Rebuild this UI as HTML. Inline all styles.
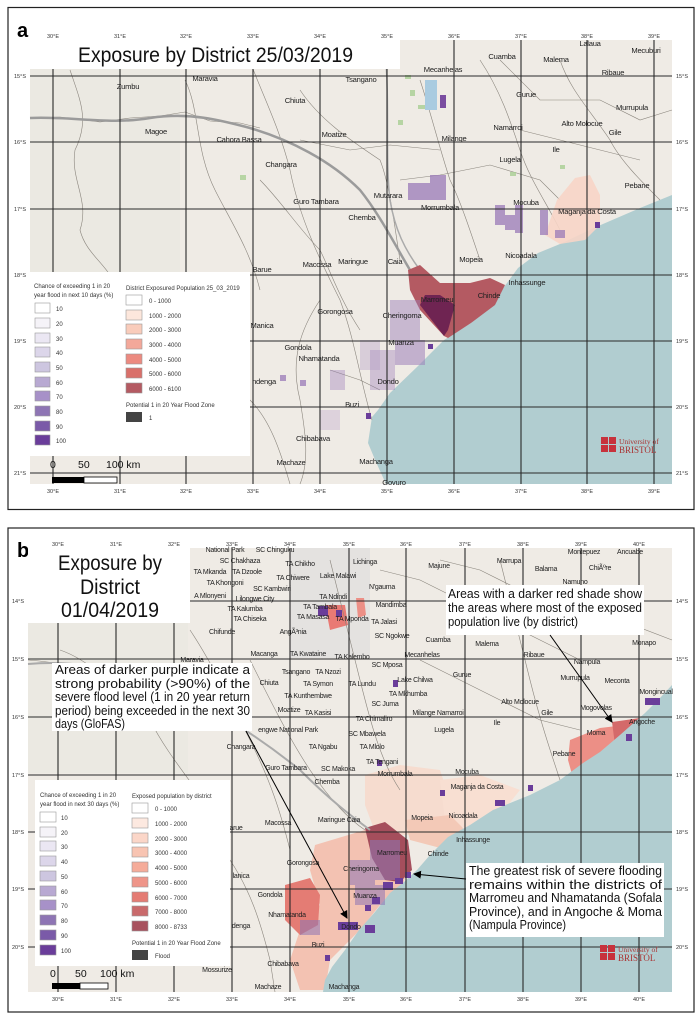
<!DOCTYPE html>
<html><head><meta charset="utf-8"><style>
html,body{margin:0;padding:0;background:#fff}
svg{display:block}
.l{font-family:"Liberation Sans",sans-serif;font-size:7.6px;letter-spacing:-0.25px;fill:#222}
.t{font-family:"Liberation Sans",sans-serif;font-size:5.5px;fill:#333}
.lg{font-family:"Liberation Sans",sans-serif;font-size:6px;fill:#333}
.an{font-family:"Liberation Sans",sans-serif;font-size:12.5px;fill:#111}
.g{stroke:#2a2a2a;stroke-width:1.1}
.r{fill:none;stroke:#8a857d;stroke-width:.6}
</style></head><body>
<svg width="700" height="1020" viewBox="0 0 700 1020" xmlns="http://www.w3.org/2000/svg">
<defs>
<marker id="ah" markerWidth="8" markerHeight="8" refX="7" refY="4" orient="auto"><path d="M0,0 L8,4 L0,8z" fill="#000"/></marker>
</defs>
<!-- ============ PANEL A ============ -->
<rect x="8" y="7.5" width="686" height="502" fill="#fff" stroke="#222" stroke-width="1.2"/>
<text x="17" y="37" font-family="Liberation Sans,sans-serif" font-size="20" font-weight="bold">a</text>
<path d="M30,69 L400,69 L400,40 L672,40 L672,484 L30,484z" fill="#efebe5"/>
<rect x="30" y="69" width="150" height="210" fill="#ebe9e2"/>
<path d="M672,195 L640,208 L596,227 L560,244 L538,253 L518,268 L507,283 L490,305 L471,323 L444,340 L417,367 L390,393 L378,410 L372,417 L368,443 L376,462 L386,484 L672,484z" fill="#b1cdd0"/>
<g class="r">
<path d="M30,118 L60,117 L100,122 L130,118 L160,116 L185,112 L210,121 L240,123 L260,128"/>
<path d="M70,70 C80,100 90,120 75,150 C70,180 90,200 80,230 C85,250 100,260 110,275"/>
<path d="M185,80 C200,110 195,150 215,190 C230,220 250,250 260,290"/>
<path d="M253,69 C265,100 280,130 290,170 C300,220 320,260 340,300 C355,340 360,380 372,420"/>
<path d="M300,90 C320,120 350,140 380,160 C390,185 395,230 400,260"/>
<path d="M420,80 C430,110 440,150 450,180 C460,200 470,230 480,260"/>
<path d="M480,60 C500,90 510,120 520,150 C530,180 545,200 560,230"/>
<path d="M560,60 C570,90 590,110 610,140 C620,160 640,180 660,200"/>
<path d="M260,180 C280,200 300,230 320,250 C330,270 340,300 360,330"/>
<path d="M320,300 C300,330 290,360 300,400 C305,430 310,460 300,484"/>
<path d="M400,180 L440,175 L490,165 L540,180 L560,200"/>
<path d="M300,140 L350,150 L390,145 L440,150"/>
<path d="M330,370 L360,380 L380,390"/>
<path d="M250,400 C270,420 280,450 290,484"/>
<path d="M500,60 L540,100 L600,100 L640,120 L672,110"/>
<path d="M520,130 L560,140 L600,150 L640,160"/>
</g>
<path d="M30,118 C70,116 110,125 150,118 C190,112 220,120 250,128 C290,140 330,160 360,190 C380,215 395,245 410,270" fill="none" stroke="#9b9b9b" stroke-width="2.5"/>
<path d="M385,50 C390,100 385,160 390,200 C395,230 405,250 420,270" fill="none" stroke="#aaa" stroke-width="1.5"/>
<g fill="#a9cf93" opacity=".8">
<rect x="405" y="75" width="6" height="4"/><rect x="410" y="90" width="5" height="6"/><rect x="418" y="105" width="7" height="4"/><rect x="398" y="120" width="5" height="5"/><rect x="240" y="175" width="6" height="5"/><rect x="510" y="172" width="6" height="4"/><rect x="560" y="165" width="5" height="4"/>
</g>
<rect x="425" y="80" width="12" height="30" fill="#a9cbe0"/>
<rect x="440" y="95" width="6" height="13" fill="#7a4da0"/>
<path d="M557,200 L575,178 L590,175 L600,195 L600,225 L585,240 L560,244 L545,235z" fill="#f7d5c7" opacity=".9"/>
<path d="M408,270 L420,265 L440,283 L470,283 L490,278 L505,285 L495,305 L471,323 L448,338 L444,336 L420,310 L410,290z" fill="#b45a62"/>
<path d="M420,305 L444,336 L448,330 L455,305 L440,295 L425,295z" fill="#6f2452"/>
<g fill="#9a7ab8" opacity=".75">
<rect x="408" y="183" width="38" height="17"/><rect x="430" y="175" width="16" height="10"/>
<rect x="495" y="205" width="10" height="20"/><rect x="505" y="215" width="12" height="15"/><rect x="515" y="205" width="8" height="28"/><rect x="540" y="210" width="8" height="25"/><rect x="555" y="230" width="10" height="8"/>
<rect x="390" y="300" width="30" height="40" opacity=".6"/><rect x="395" y="340" width="30" height="25" opacity=".7"/><rect x="370" y="350" width="25" height="40" opacity=".5"/>
<rect x="360" y="340" width="20" height="30" opacity=".35"/><rect x="330" y="370" width="15" height="20" opacity=".5"/><rect x="280" y="375" width="6" height="6"/><rect x="300" y="380" width="6" height="6"/>
<rect x="320" y="410" width="20" height="20" opacity=".3"/>
</g>
<rect x="366" y="413" width="5" height="6" fill="#6a3d9a"/><rect x="428" y="344" width="5" height="5" fill="#6a3d9a"/><rect x="595" y="222" width="5" height="6" fill="#6a3d9a"/>
<g class="g">
<line x1="30" y1="76" x2="672" y2="76"/><line x1="30" y1="142" x2="672" y2="142"/><line x1="30" y1="209" x2="672" y2="209"/><line x1="30" y1="275" x2="672" y2="275"/><line x1="30" y1="341" x2="672" y2="341"/><line x1="30" y1="407" x2="672" y2="407"/><line x1="30" y1="473" x2="672" y2="473"/>
<line x1="53" y1="40" x2="53" y2="484"/><line x1="120" y1="40" x2="120" y2="484"/><line x1="186" y1="40" x2="186" y2="484"/><line x1="253" y1="40" x2="253" y2="484"/><line x1="320" y1="40" x2="320" y2="484"/><line x1="387" y1="40" x2="387" y2="484"/><line x1="454" y1="40" x2="454" y2="484"/><line x1="521" y1="40" x2="521" y2="484"/><line x1="587" y1="40" x2="587" y2="484"/><line x1="654" y1="40" x2="654" y2="484"/>
</g>
<rect x="30" y="40" width="370" height="29" fill="#fff"/>
<text x="78" y="62" font-family="Liberation Sans,sans-serif" font-size="21" fill="#111" textLength="275" lengthAdjust="spacingAndGlyphs">Exposure by District 25/03/2019</text>
<g class="t" text-anchor="middle">
<text x="53" y="38">30°E</text><text x="120" y="38">31°E</text><text x="186" y="38">32°E</text><text x="253" y="38">33°E</text><text x="320" y="38">34°E</text><text x="387" y="38">35°E</text><text x="454" y="38">36°E</text><text x="521" y="38">37°E</text><text x="587" y="38">38°E</text><text x="654" y="38">39°E</text>
<text x="53" y="493">30°E</text><text x="120" y="493">31°E</text><text x="186" y="493">32°E</text><text x="253" y="493">33°E</text><text x="320" y="493">34°E</text><text x="387" y="493">35°E</text><text x="454" y="493">36°E</text><text x="521" y="493">37°E</text><text x="587" y="493">38°E</text><text x="654" y="493">39°E</text>
</g>
<g class="t">
<text x="14" y="78">15°S</text><text x="14" y="144">16°S</text><text x="14" y="211">17°S</text><text x="14" y="277">18°S</text><text x="14" y="343">19°S</text><text x="14" y="409">20°S</text><text x="14" y="475">21°S</text>
<text x="676" y="78">15°S</text><text x="676" y="144">16°S</text><text x="676" y="211">17°S</text><text x="676" y="277">18°S</text><text x="676" y="343">19°S</text><text x="676" y="409">20°S</text><text x="676" y="475">21°S</text>
</g>
<g class="l" text-anchor="middle">
<text x="128" y="89">Zumbu</text><text x="205" y="81">Maravia</text><text x="361" y="82">Tsangano</text><text x="443" y="72">Mecanhelas</text><text x="502" y="59">Cuamba</text><text x="556" y="62">Malema</text><text x="590" y="46">Lalaua</text><text x="646" y="53">Mecuburi</text><text x="613" y="75">Ribaue</text>
<text x="295" y="103">Chiuta</text><text x="526" y="97">Gurue</text><text x="632" y="110">Murrupula</text><text x="156" y="134">Magoe</text><text x="239" y="142">Cahora Bassa</text><text x="334" y="137">Moatize</text><text x="508" y="130">Namarroi</text><text x="582" y="126">Alto Molocue</text><text x="615" y="135">Gile</text><text x="454" y="141">Milange</text><text x="556" y="152">Ile</text><text x="510" y="162">Lugela</text><text x="281" y="167">Changara</text><text x="637" y="188">Pebane</text>
<text x="388" y="198">Mutarara</text><text x="316" y="204">Guro Tambara</text><text x="440" y="210">Morrumbala</text><text x="526" y="205">Mocuba</text><text x="587" y="214">Maganja da Costa</text><text x="362" y="220">Chemba</text>
<text x="471" y="262">Mopeia</text><text x="521" y="258">Nicoadala</text><text x="317" y="267">Macossa</text><text x="353" y="264">Maringue</text><text x="395" y="264">Caia</text><text x="262" y="272">Barue</text><text x="527" y="285">Inhassunge</text><text x="489" y="298">Chinde</text><text x="437" y="302">Marromeu</text>
<text x="335" y="314">Gorongosa</text><text x="402" y="318">Cheringoma</text><text x="262" y="328">Manica</text><text x="401" y="345">Muanza</text><text x="298" y="350">Gondola</text><text x="319" y="361">Nhamatanda</text><text x="264" y="384">ndenga</text><text x="388" y="384">Dondo</text><text x="352" y="407">Buzi</text><text x="313" y="441">Chibabava</text><text x="291" y="465">Machaze</text><text x="376" y="464">Machanga</text><text x="394" y="485">Govuro</text>
</g>
<rect x="30" y="272" width="220" height="184" fill="#fff"/>
<text class="lg" x="34" y="288">Chance of exceeding 1 in 20</text>
<text class="lg" x="34" y="297">year flood in next 10 days (%)</text>
<g stroke="#999" stroke-width=".6">
<rect x="35" y="303" width="15" height="10" fill="#fff"/><rect x="35" y="318" width="15" height="10" fill="#f5f3f8"/><rect x="35" y="333" width="15" height="10" fill="#ebe7f3"/><rect x="35" y="347" width="15" height="10" fill="#dcd6ea"/><rect x="35" y="362" width="15" height="10" fill="#cdc6e0"/><rect x="35" y="377" width="15" height="10" fill="#b8a9d2"/><rect x="35" y="391" width="15" height="10" fill="#a791c8"/><rect x="35" y="406" width="15" height="10" fill="#8e75b4"/><rect x="35" y="421" width="15" height="10" fill="#7a5aa8"/><rect x="35" y="435" width="15" height="10" fill="#6a3d9a"/>
</g>
<g class="lg"><text x="56" y="311">10</text><text x="56" y="326">20</text><text x="56" y="341">30</text><text x="56" y="355">40</text><text x="56" y="370">50</text><text x="56" y="385">60</text><text x="56" y="399">70</text><text x="56" y="414">80</text><text x="56" y="429">90</text><text x="56" y="443">100</text></g>
<text class="lg" x="126" y="290">District Exposured Population 25_03_2019</text>
<g stroke="#999" stroke-width=".6">
<rect x="126" y="295" width="16" height="10" fill="#fff"/><rect x="126" y="310" width="16" height="10" fill="#fde7dc"/><rect x="126" y="324" width="16" height="10" fill="#f9ccbb"/><rect x="126" y="339" width="16" height="10" fill="#f3a89a"/><rect x="126" y="354" width="16" height="10" fill="#ec8a80"/><rect x="126" y="368" width="16" height="10" fill="#d9706a"/><rect x="126" y="383" width="16" height="10" fill="#b45a62"/>
</g>
<g class="lg"><text x="149" y="303">0 - 1000</text><text x="149" y="318">1000 - 2000</text><text x="149" y="332">2000 - 3000</text><text x="149" y="347">3000 - 4000</text><text x="149" y="362">4000 - 5000</text><text x="149" y="376">5000 - 6000</text><text x="149" y="391">6000 - 6100</text></g>
<text class="lg" x="126" y="407">Potential 1 in 20 Year Flood Zone</text>
<rect x="126" y="412" width="16" height="10" fill="#444"/><text class="lg" x="149" y="420">1</text>
<g font-family="Liberation Sans,sans-serif" font-size="10.5" fill="#111"><text x="50" y="468">0</text><text x="78" y="468">50</text><text x="106" y="468">100 km</text></g>
<rect x="52" y="477" width="32" height="6" fill="#000"/><rect x="84" y="477" width="33" height="6" fill="#fff" stroke="#000" stroke-width=".8"/>
<rect x="601" y="437" width="7" height="7" fill="#c7323c"/><rect x="609" y="437" width="7" height="7" fill="#c7323c"/><rect x="601" y="445" width="7" height="7" fill="#c7323c"/><rect x="609" y="445" width="7" height="7" fill="#c7323c"/>
<text x="619" y="444" font-family="Liberation Serif,serif" font-size="7.5" fill="#a33">University of</text><text x="619" y="453" font-family="Liberation Serif,serif" font-size="9" fill="#a33">BRISTOL</text>

<!-- ============ PANEL B ============ -->
<rect x="8" y="528" width="686" height="484" fill="#fff" stroke="#222" stroke-width="1.2"/>
<text x="17" y="557" font-family="Liberation Sans,sans-serif" font-size="20" font-weight="bold">b</text>
<path d="M28,548 L672,548 L672,992 L28,992z" fill="#efebe5"/>
<rect x="28" y="623" width="160" height="150" fill="#ebe9e2"/>
<rect x="290" y="548" width="80" height="110" fill="#dcdcdc" opacity=".6"/>
<g>
<path d="M365,775 L400,765 L440,770 L450,800 L440,830 L405,835 L375,832 L365,805z" fill="#f6dccf"/>
<path d="M440,780 L480,775 L520,790 L500,815 L470,830 L445,820z" fill="#f8dfd2"/>
<path d="M405,820 L450,815 L470,835 L448,850 L410,840z" fill="#f3c9b7"/>
<path d="M315,845 L365,830 L395,840 L410,860 L400,895 L380,905 L360,930 L345,945 L330,960 L325,990 L300,990 L290,960 L300,930 L320,905 L310,870z" fill="#f3c2b2"/>
<path d="M285,885 L310,878 L320,895 L318,925 L300,935 L285,920z" fill="#e47c74"/>
<path d="M365,828 L385,822 L408,840 L412,870 L400,882 L385,880 L372,858z" fill="#a54e5c"/>
<path d="M570,740 L600,728 L625,725 L640,735 L630,760 L610,775 L590,790 L575,785 L568,760z" fill="#ec8f86"/>
<path d="M612,722 L640,718 L650,730 L640,745 L625,760 L615,745z" fill="#d46a6a"/>
<path d="M325,605 L345,605 L348,625 L330,630z" fill="#e97a74"/>
<path d="M356,598 L364,598 L366,615 L358,618z" fill="#ec8f86"/>
</g>
<path d="M672,685 L660,698 L645,713 L620,735 L600,752 L583,763 L560,780 L530,795 L493,810 L470,825 L448,837 L430,855 L417,870 L404,882 L390,893 L375,912 L359,930 L345,950 L332,967 L325,980 L323,992 L672,992z" fill="#b1cdd0"/>
<g class="r">
<path d="M60,650 C90,660 120,690 150,720 C170,760 200,790 230,840"/>
<path d="M190,630 C210,660 230,700 250,740 C270,780 280,810 290,850"/>
<path d="M250,660 C270,700 290,740 310,770 C330,800 350,820 365,830"/>
<path d="M330,560 C340,600 350,640 360,680 C370,720 380,760 400,790"/>
<path d="M380,570 L420,580 L460,600 L500,620 L540,640 L580,660"/>
<path d="M420,660 L460,680 L500,700 L540,720 L580,730"/>
<path d="M440,560 L480,570 L520,590 L560,600 L620,620 L672,640"/>
<path d="M500,560 C510,600 520,640 530,680 C540,720 550,750 560,780"/>
<path d="M230,860 C250,890 260,920 270,960 L275,992"/>
<path d="M140,850 C160,880 190,900 220,930"/>
<path d="M28,660 C60,662 90,670 120,680"/>
</g>
<path d="M28,664 C70,660 110,668 150,678 C200,700 250,730 300,770 C330,800 350,815 370,830" fill="none" stroke="#aaa" stroke-width="2"/>
<g fill="#8e75b4" opacity=".55">
<rect x="370" y="840" width="30" height="40"/><rect x="350" y="860" width="25" height="25"/><rect x="355" y="885" width="30" height="20"/><rect x="300" y="920" width="20" height="15"/>
</g>
<g fill="#6a3d9a">
<rect x="318" y="606" width="10" height="10"/><rect x="336" y="610" width="6" height="7"/><rect x="393" y="680" width="5" height="7"/><rect x="377" y="760" width="5" height="6"/>
<rect x="440" y="790" width="5" height="6"/><rect x="495" y="800" width="10" height="6"/><rect x="528" y="785" width="5" height="6"/><rect x="645" y="698" width="15" height="7"/><rect x="626" y="734" width="6" height="7"/>
<rect x="383" y="882" width="10" height="8"/><rect x="395" y="878" width="8" height="6"/><rect x="405" y="872" width="6" height="6"/><rect x="372" y="897" width="8" height="7"/><rect x="365" y="905" width="6" height="6"/><rect x="365" y="925" width="10" height="8"/><rect x="338" y="922" width="20" height="8"/><rect x="325" y="955" width="5" height="6"/>
</g>
<g class="g">
<line x1="28" y1="601" x2="672" y2="601"/><line x1="28" y1="659" x2="672" y2="659"/><line x1="28" y1="717" x2="672" y2="717"/><line x1="28" y1="775" x2="672" y2="775"/><line x1="28" y1="832" x2="672" y2="832"/><line x1="28" y1="889" x2="672" y2="889"/><line x1="28" y1="947" x2="672" y2="947"/>
<line x1="58" y1="548" x2="58" y2="992"/><line x1="116" y1="548" x2="116" y2="992"/><line x1="174" y1="548" x2="174" y2="992"/><line x1="232" y1="548" x2="232" y2="992"/><line x1="290" y1="548" x2="290" y2="992"/><line x1="349" y1="548" x2="349" y2="992"/><line x1="406" y1="548" x2="406" y2="992"/><line x1="465" y1="548" x2="465" y2="992"/><line x1="523" y1="548" x2="523" y2="992"/><line x1="581" y1="548" x2="581" y2="992"/><line x1="639" y1="548" x2="639" y2="992"/>
</g>
<g class="t" text-anchor="middle">
<text x="58" y="546">30°E</text><text x="116" y="546">31°E</text><text x="174" y="546">32°E</text><text x="232" y="546">33°E</text><text x="290" y="546">34°E</text><text x="349" y="546">35°E</text><text x="406" y="546">36°E</text><text x="465" y="546">37°E</text><text x="523" y="546">38°E</text><text x="581" y="546">39°E</text><text x="639" y="546">40°E</text>
<text x="58" y="1001">30°E</text><text x="116" y="1001">31°E</text><text x="174" y="1001">32°E</text><text x="232" y="1001">33°E</text><text x="290" y="1001">34°E</text><text x="349" y="1001">35°E</text><text x="406" y="1001">36°E</text><text x="465" y="1001">37°E</text><text x="523" y="1001">38°E</text><text x="581" y="1001">39°E</text><text x="639" y="1001">40°E</text>
</g>
<g class="t">
<text x="12" y="603">14°S</text><text x="12" y="661">15°S</text><text x="12" y="719">16°S</text><text x="12" y="777">17°S</text><text x="12" y="834">18°S</text><text x="12" y="891">19°S</text><text x="12" y="949">20°S</text>
<text x="676" y="603">14°S</text><text x="676" y="661">15°S</text><text x="676" y="719">16°S</text><text x="676" y="777">17°S</text><text x="676" y="834">18°S</text><text x="676" y="891">19°S</text><text x="676" y="949">20°S</text>
</g>
<g class="l" text-anchor="middle" style="font-size:7px">
<text x="225" y="552">National Park</text><text x="275" y="552">SC Chinguku</text><text x="240" y="563">SC Chakhaza</text><text x="300" y="566">TA Chikho</text><text x="210" y="574">TA Mkanda</text><text x="247" y="574">TA Dzoole</text><text x="225" y="585">TA Khongoni</text><text x="293" y="580">TA Chiwere</text><text x="338" y="578">Lake Malawi</text><text x="272" y="591">SC Kambwiri</text><text x="210" y="598">A Mlonyeni</text><text x="255" y="601">Lilongwe City</text><text x="333" y="599">TA Ndindi</text><text x="245" y="611">TA Kalumba</text><text x="320" y="609">TA Tambala</text><text x="250" y="621">TA Chiseka</text><text x="313" y="619">TA Masasa</text><text x="352" y="621">TA Mponda</text><text x="384" y="624">TA Jalasi</text><text x="392" y="638">SC Ngokwe</text><text x="293" y="634">AngÃ³nia</text>
<text x="365" y="564">Lichinga</text><text x="439" y="568">Majune</text><text x="509" y="563">Marrupa</text><text x="546" y="571">Balama</text><text x="584" y="554">Montepuez</text><text x="630" y="554">Ancuabe</text><text x="600" y="570">ChiÃºre</text><text x="575" y="584">Namuno</text><text x="382" y="589">N'gauma</text><text x="391" y="607">Mandimba</text>
<text x="222" y="634">Chifunde</text><text x="438" y="642">Cuamba</text><text x="487" y="646">Malema</text><text x="644" y="645">Monapo</text><text x="264" y="656">Macanga</text><text x="308" y="656">TA Kwataine</text><text x="352" y="659">TA Kalembo</text><text x="422" y="657">Mecanhelas</text><text x="534" y="657">Ribaue</text><text x="587" y="664">Nampula</text><text x="192" y="662">Maravia</text><text x="387" y="667">SC Mposa</text>
<text x="296" y="674">Tsangano</text><text x="328" y="674">TA Nzozi</text><text x="269" y="685">Chiuta</text><text x="318" y="686">TA Symon</text><text x="362" y="686">TA Lundu</text><text x="415" y="682">Lake Chilwa</text><text x="462" y="677">Gurue</text><text x="575" y="680">Murrupula</text><text x="617" y="683">Meconta</text><text x="408" y="696">TA Mkhumba</text><text x="308" y="698">TA Kunthembwe</text><text x="385" y="706">SC Juma</text><text x="520" y="704">Alto Molocue</text><text x="596" y="710">Mogovolas</text><text x="656" y="694">Mongincual</text>
<text x="289" y="712">Moatize</text><text x="318" y="715">TA Kasisi</text><text x="438" y="715">Milange Namarroi</text><text x="547" y="715">Gile</text><text x="374" y="721">TA Chimaliro</text><text x="497" y="725">Ile</text><text x="642" y="724">Angoche</text><text x="444" y="732">Lugela</text><text x="596" y="735">Moma</text><text x="288" y="732">engwe National Park</text><text x="367" y="736">SC Mbawela</text>
<text x="241" y="749">Changara</text><text x="323" y="749">TA Ngabu</text><text x="372" y="749">TA Mlolo</text><text x="564" y="756">Pebane</text><text x="382" y="764">TA Tengani</text><text x="286" y="770">Guro Tambara</text><text x="338" y="771">SC Makoka</text><text x="395" y="776">Morrumbala</text><text x="467" y="774">Mocuba</text><text x="327" y="784">Chemba</text><text x="477" y="789">Maganja da Costa</text>
<text x="278" y="825">Macossa</text><text x="339" y="822">Maringue Caia</text><text x="422" y="820">Mopeia</text><text x="463" y="818">Nicoadala</text><text x="236" y="830">arue</text><text x="473" y="842">Inhassunge</text><text x="392" y="855">Marromeu</text><text x="438" y="856">Chinde</text><text x="303" y="865">Gorongosa</text><text x="361" y="871">Cheringoma</text><text x="241" y="878">lanica</text><text x="270" y="897">Gondola</text><text x="365" y="898">Muanza</text><text x="287" y="917">Nhamatanda</text><text x="241" y="928">denga</text><text x="351" y="929">Dondo</text><text x="318" y="947">Buzi</text><text x="283" y="966">Chibabava</text><text x="217" y="972">Mossurize</text><text x="268" y="989">Machaze</text><text x="344" y="989">Machanga</text>
</g>
<rect x="28" y="548" width="162" height="75" fill="#fff"/>
<g font-family="Liberation Sans,sans-serif" font-size="21" fill="#111" text-anchor="middle">
<text x="110" y="570" textLength="104" lengthAdjust="spacingAndGlyphs">Exposure by</text><text x="110" y="594" textLength="60" lengthAdjust="spacingAndGlyphs">District</text><text x="110" y="617" textLength="98" lengthAdjust="spacingAndGlyphs">01/04/2019</text>
</g>
<rect x="446" y="585" width="198" height="50" fill="#fff"/>
<g class="an"><text x="448" y="598" textLength="194" lengthAdjust="spacingAndGlyphs">Areas with a darker red shade show</text><text x="448" y="612" textLength="194" lengthAdjust="spacingAndGlyphs">the areas where most of the exposed</text><text x="448" y="626" textLength="130" lengthAdjust="spacingAndGlyphs">population live (by district)</text></g>
<rect x="52" y="663" width="200" height="68" fill="#fff"/>
<g class="an"><text x="55" y="674" textLength="195" lengthAdjust="spacingAndGlyphs">Areas of darker purple indicate a</text><text x="55" y="688" textLength="195" lengthAdjust="spacingAndGlyphs">strong probability (&gt;90%) of the</text><text x="55" y="701" textLength="195" lengthAdjust="spacingAndGlyphs">severe flood level (1 in 20 year return</text><text x="55" y="715" textLength="195" lengthAdjust="spacingAndGlyphs">period) being exceeded in the next 30</text><text x="55" y="728" textLength="70" lengthAdjust="spacingAndGlyphs">days (GloFAS)</text></g>
<rect x="466" y="863" width="198" height="74" fill="#fff"/>
<g class="an"><text x="469" y="875" textLength="193" lengthAdjust="spacingAndGlyphs">The greatest risk of severe flooding</text><text x="469" y="889" textLength="193" lengthAdjust="spacingAndGlyphs">remains within the districts of</text><text x="469" y="902" textLength="193" lengthAdjust="spacingAndGlyphs">Marromeu and Nhamatanda (Sofala</text><text x="469" y="916" textLength="193" lengthAdjust="spacingAndGlyphs">Province), and in Angoche &amp; Moma</text><text x="469" y="929" textLength="97" lengthAdjust="spacingAndGlyphs">(Nampula Province)</text></g>
<g stroke="#000" stroke-width="1" fill="none">
<line x1="550" y1="635" x2="612" y2="722" marker-end="url(#ah)"/>
<line x1="246" y1="731" x2="347" y2="918" marker-end="url(#ah)"/>
<line x1="466" y1="879" x2="414" y2="874" marker-end="url(#ah)"/>
</g>
<rect x="35" y="780" width="195" height="186" fill="#fff"/>
<text class="lg" x="40" y="797">Chance of exceeding 1 in 20</text>
<text class="lg" x="40" y="806">year flood in next 30 days (%)</text>
<g stroke="#999" stroke-width=".6">
<rect x="40" y="812" width="16" height="10" fill="#fff"/><rect x="40" y="827" width="16" height="10" fill="#f5f3f8"/><rect x="40" y="841" width="16" height="10" fill="#ebe7f3"/><rect x="40" y="856" width="16" height="10" fill="#dcd6ea"/><rect x="40" y="871" width="16" height="10" fill="#cdc6e0"/><rect x="40" y="886" width="16" height="10" fill="#b8a9d2"/><rect x="40" y="900" width="16" height="10" fill="#a791c8"/><rect x="40" y="915" width="16" height="10" fill="#8e75b4"/><rect x="40" y="930" width="16" height="10" fill="#7a5aa8"/><rect x="40" y="945" width="16" height="10" fill="#6a3d9a"/>
</g>
<g class="lg"><text x="61" y="820">10</text><text x="61" y="835">20</text><text x="61" y="849">30</text><text x="61" y="864">40</text><text x="61" y="879">50</text><text x="61" y="894">60</text><text x="61" y="908">70</text><text x="61" y="923">80</text><text x="61" y="938">90</text><text x="61" y="953">100</text></g>
<text class="lg" x="132" y="798">Exposed population by district</text>
<g stroke="#999" stroke-width=".6">
<rect x="132" y="803" width="16" height="10" fill="#fff"/><rect x="132" y="818" width="16" height="10" fill="#fde9e0"/><rect x="132" y="833" width="16" height="10" fill="#fbd6c8"/><rect x="132" y="847" width="16" height="10" fill="#f8c4b2"/><rect x="132" y="862" width="16" height="10" fill="#f5ac9a"/><rect x="132" y="877" width="16" height="10" fill="#ee9589"/><rect x="132" y="892" width="16" height="10" fill="#e47c74"/><rect x="132" y="906" width="16" height="10" fill="#c96a6c"/><rect x="132" y="921" width="16" height="10" fill="#a8525e"/>
</g>
<g class="lg"><text x="155" y="811">0 - 1000</text><text x="155" y="826">1000 - 2000</text><text x="155" y="841">2000 - 3000</text><text x="155" y="855">3000 - 4000</text><text x="155" y="870">4000 - 5000</text><text x="155" y="885">5000 - 6000</text><text x="155" y="900">6000 - 7000</text><text x="155" y="914">7000 - 8000</text><text x="155" y="929">8000 - 8733</text></g>
<text class="lg" x="132" y="945">Potential 1 in 20 Year Flood Zone</text>
<rect x="132" y="950" width="16" height="10" fill="#444"/><text class="lg" x="155" y="958">Flood</text>
<g font-family="Liberation Sans,sans-serif" font-size="10.5" fill="#111"><text x="50" y="977">0</text><text x="75" y="977">50</text><text x="100" y="977">100 km</text></g>
<rect x="52" y="983" width="28" height="6" fill="#000"/><rect x="80" y="983" width="28" height="6" fill="#fff" stroke="#000" stroke-width=".8"/>
<rect x="600" y="945" width="7" height="7" fill="#c7323c"/><rect x="608" y="945" width="7" height="7" fill="#c7323c"/><rect x="600" y="953" width="7" height="7" fill="#c7323c"/><rect x="608" y="953" width="7" height="7" fill="#c7323c"/>
<text x="618" y="952" font-family="Liberation Serif,serif" font-size="7.5" fill="#a33">University of</text><text x="618" y="961" font-family="Liberation Serif,serif" font-size="9" fill="#a33">BRISTOL</text>
</svg>
</body></html>
